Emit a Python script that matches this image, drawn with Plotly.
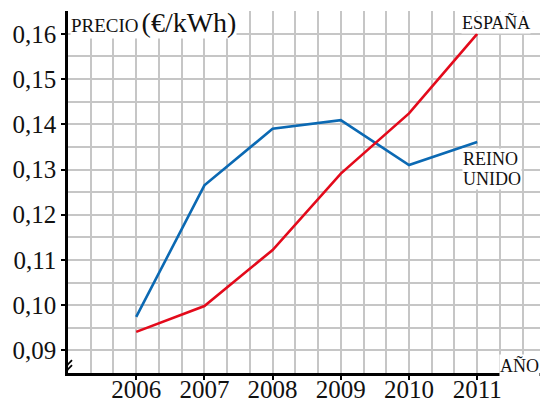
import plotly.graph_objects as go

years = [2006, 2007, 2008, 2009, 2010, 2011]
espana = [0.0941, 0.0998, 0.1122, 0.1291, 0.1424, 0.1600]
reino_unido = [0.0974, 0.1265, 0.1390, 0.1409, 0.1310, 0.1361]

y_ticks = [0.09, 0.10, 0.11, 0.12, 0.13, 0.14, 0.15, 0.16]
y_tick_labels = ["0,09", "0,10", "0,11", "0,12", "0,13", "0,14", "0,15", "0,16"]
x_tick_labels = ["2006", "2007", "2008", "2009", "2010", "2011"]

FONT = "Liberation Serif"
GRID = "#c6c6c6"
BLUE = "#0b69b3"
RED = "#e30a1b"
TXT = "#111111"

fig = go.Figure()
fig.add_trace(go.Scatter(x=years, y=reino_unido, mode="lines",
                         line=dict(color=BLUE, width=2.6), name="Reino Unido"))
fig.add_trace(go.Scatter(x=years, y=espana, mode="lines",
                         line=dict(color=RED, width=2.6), name="España"))

fig.update_layout(
    width=540, height=403,
    margin=dict(l=68, r=0, t=11, b=30, autoexpand=False),
    paper_bgcolor="white", plot_bgcolor="white",
    showlegend=False,
    font=dict(family=FONT, color=TXT),
)

fig.update_xaxes(
    range=[2005, 2005 + 472 / 68.2],
    tickmode="array", tickvals=years, ticktext=x_tick_labels,
    tickfont=dict(family=FONT, size=25, color=TXT),
    ticks="outside", ticklen=4, tickwidth=2, tickcolor="black",
    ticklabelstandoff=-12,
    showgrid=True, gridcolor=GRID, gridwidth=1.5,
    minor=dict(tickmode="linear", tick0=2005, dtick=1/3, showgrid=True,
               gridcolor=GRID, gridwidth=1.5, ticks=""),
    showline=True, linecolor="black", linewidth=2.5,
    zeroline=False, fixedrange=True, automargin=False,
)
fig.update_yaxes(
    range=[0.085, 0.16505],
    tickmode="array", tickvals=y_ticks, ticktext=y_tick_labels,
    tickfont=dict(family=FONT, size=25, color=TXT),
    ticks="outside", ticklen=4, tickwidth=2, tickcolor="black",
    showgrid=True, gridcolor=GRID, gridwidth=1.5,
    minor=dict(tickmode="linear", tick0=0.085, dtick=0.005, showgrid=True,
               gridcolor=GRID, gridwidth=1.5, ticks=""),
    showline=True, linecolor="black", linewidth=2.5,
    zeroline=False, fixedrange=True, automargin=False,
)

# axis break on the y axis
fig.add_shape(type="rect", xref="x", yref="y", xsizemode="pixel", ysizemode="pixel",
              xanchor=2005, yanchor=0.0865, x0=-3, x1=3, y0=-3, y1=5,
              fillcolor="white", line=dict(width=0), layer="above")
for off in (0, -5):
    fig.add_shape(type="line", xref="x", yref="y", xsizemode="pixel", ysizemode="pixel",
                  xanchor=2005, yanchor=0.0865, x0=-6, x1=4, y0=-4 + off, y1=6 + off,
                  line=dict(color="black", width=1.8), layer="above")

fig.add_annotation(x=0.004, y=0.165, xref="paper", yref="y", xanchor="left", yanchor="middle",
                   yshift=-11,
                   text="<span style='font-size:19px'>PRECIO</span> <span style='font-size:28px'>(€/kWh)</span>",
                   font=dict(family=FONT, color=TXT),
                   showarrow=False, bgcolor="white", borderpad=0)
fig.add_annotation(x=2010.76, y=0.165, xref="x", yref="y", xanchor="left", yanchor="middle",
                   yshift=-11, text="ESPAÑA", font=dict(family=FONT, size=18, color=TXT),
                   showarrow=False, bgcolor="white", borderpad=0)
for txt, yv in (("REINO", 0.1324), ("UNIDO", 0.1278)):
    fig.add_annotation(x=2010.77, y=yv, xref="x", yref="y", xanchor="left", yanchor="middle",
                       text=txt, font=dict(family=FONT, size=18, color=TXT),
                       showarrow=False, bgcolor="white", borderpad=0)
fig.add_annotation(x=1.0, y=0.0867, xref="paper", yref="y", xanchor="right", yanchor="middle",
                   text="AÑO", font=dict(family=FONT, size=18, color=TXT),
                   showarrow=False, bgcolor="white", borderpad=0)

fig.write_html("out.html", config={"displayModeBar": False},
               post_script="document.body.style.margin='0';document.body.style.overflow='hidden';")
